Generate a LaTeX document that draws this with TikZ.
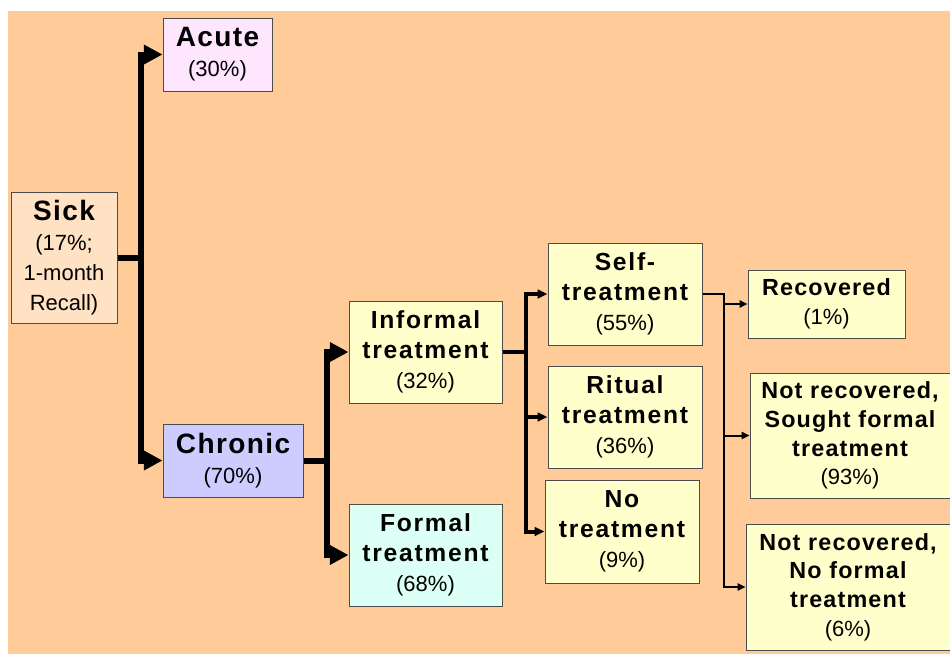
\documentclass[tikz,border=0pt]{standalone}
\usepackage{fontspec}
\setmainfont{Liberation Sans}
\usetikzlibrary{arrows.meta}
\definecolor{bgpeach}{HTML}{FFCC99}
\definecolor{sickfill}{HTML}{FFE1C4}
\definecolor{acutefill}{HTML}{FFE6FF}
\definecolor{chronicfill}{HTML}{CCCCFF}
\definecolor{yellowfill}{HTML}{FFFFCC}
\definecolor{formalfill}{HTML}{DCFFF6}
\newcommand{\bigttl}[0]{\fontsize{21}{22.5}\selectfont\bfseries\addfontfeature{LetterSpace=5}}
\newcommand{\midttl}[0]{\fontsize{18.5}{22.5}\selectfont\bfseries\addfontfeature{LetterSpace=7}}
\newcommand{\smlttl}[0]{\fontsize{17.5}{21.5}\selectfont\bfseries\addfontfeature{LetterSpace=5}}
\newcommand{\pct}[0]{\normalfont\fontsize{16.5}{22.5}\selectfont}
\tikzset{
  box/.style={draw=black!70, line width=0.75pt, inner sep=0pt, align=center},
  thick arrow/.style={line width=4.5pt, -{Triangle[length=14pt,width=14pt]}},
  mid arrow/.style={line width=3pt, -{Triangle[length=7.5pt,width=6.5pt]}},
  thin arrow/.style={line width=1.5pt, -{Triangle[length=6pt,width=5.5pt]}},
}
\begin{document}
\begin{tikzpicture}[x=0.75pt, y=-0.75pt]
  \useasboundingbox (0,0) rectangle (950,654);
  \fill[bgpeach] (8,11) rectangle (950,654);
  % first level
  \node[box, fill=sickfill, minimum width=79.5pt, minimum height=98.25pt, font=\bigttl]
    (sick) at (64,257.5) {Sick\\\pct(17\%;\\\pct 1-month\\\pct Recall)};
  \node[box, fill=acutefill, minimum width=81.75pt, minimum height=54.75pt, font=\bigttl]
    (acute) at (217.5,54.5) {Acute\\\pct(30\%)};
  \node[box, fill=chronicfill, minimum width=105pt, minimum height=54.75pt, font=\bigttl]
    (chronic) at (233,460.5) {Chronic\\\pct(70\%)};
  % second level
  \node[box, fill=yellowfill, minimum width=114.75pt, minimum height=76.5pt, font=\midttl]
    (informal) at (425.5,352) {Informal\\treatment\\\pct(32\%)};
  \node[box, fill=formalfill, minimum width=114.75pt, minimum height=76.5pt, font=\midttl]
    (formal) at (425.5,555) {Formal\\treatment\\\pct(68\%)};
  % third level
  \node[box, fill=yellowfill, minimum width=115.5pt, minimum height=76.5pt, font=\midttl]
    (self) at (625,294) {Self-\\treatment\\\pct(55\%)};
  \node[box, fill=yellowfill, minimum width=115.5pt, minimum height=76.5pt, font=\midttl]
    (ritual) at (625,417) {Ritual\\treatment\\\pct(36\%)};
  \node[box, fill=yellowfill, minimum width=115.5pt, minimum height=77.25pt, font=\midttl]
    (notreat) at (622,531.5) {No\\treatment\\\pct(9\%)};
  % fourth level
  \node[box, fill=yellowfill, minimum width=117.75pt, minimum height=51pt, font=\smlttl]
    (recovered) at (826.5,304) {Recovered\\\pct(1\%)};
  \node[box, fill=yellowfill, minimum width=150pt, minimum height=93.75pt, font=\smlttl]
    (sought) at (850,435.5) {Not recovered,\\Sought formal\\treatment\\\pct(93\%)};
  \node[box, fill=yellowfill, minimum width=153pt, minimum height=94.5pt, font=\smlttl]
    (noformal) at (848,587) {Not recovered,\\No formal\\treatment\\\pct(6\%)};
  % connectors
  \draw[thick arrow] (sick.east) -- ++(23,0) |- (acute.west);
  \draw[thick arrow] (sick.east) -- ++(23,0) |- (chronic.west);
  \draw[thick arrow] (chronic.east) -- ++(23,0) |- (informal.west);
  \draw[thick arrow] (chronic.east) -- ++(23,0) |- (formal.west);
  \draw[mid arrow] (informal.east) -- ++(23,0) |- (self.west);
  \draw[mid arrow] (informal.east) -- ++(23,0) |- (ritual.west);
  \draw[mid arrow] (informal.east) -- ++(23,0) |- (notreat.west);
  \draw[thin arrow] (self.east) -- ++(21,0) |- (recovered.west);
  \draw[thin arrow] (self.east) -- ++(21,0) |- (sought.west);
  \draw[thin arrow] (self.east) -- ++(21,0) |- (noformal.west);
\end{tikzpicture}
\end{document}
